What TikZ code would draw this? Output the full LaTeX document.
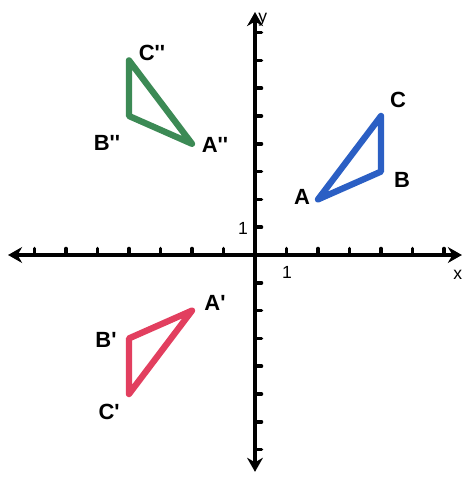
\documentclass[tikz,border=0pt]{standalone}
\usepackage{fontspec}
\setmainfont{Liberation Sans}
\usetikzlibrary{arrows.meta}
\definecolor{triBlue}{HTML}{2B5FC4}
\definecolor{triGreen}{HTML}{3C8A55}
\definecolor{triRed}{HTML}{E23F5F}
\newcommand{\pr}{\textquotesingle}

\begin{document}
\begin{tikzpicture}[
  x=0.63cm, y=0.556cm,
  axis/.style={line width=2.7pt, {Stealth[length=8pt,width=9pt]}-{Stealth[length=8pt,width=9pt]}},
  tickmark/.style={line width=2pt, line cap=round},
  tri/.style={line width=3.6pt, line join=round, line cap=round},
  vlbl/.style={font=\fontsize{12.5}{14}\selectfont\bfseries, inner sep=0pt},
  nlbl/.style={font=\fontsize{10}{12}\selectfont, inner sep=0pt},
]
\useasboundingbox (-5.1cm,-4.48cm) rectangle (4.18cm,5.1cm);

% ---------------- Axes ----------------
\coordinate (xl) at (-7.84,0);
\coordinate (xr) at (6.57,0);
\coordinate (yb) at (0,-7.8);
\coordinate (yt) at (0,8.74);
\draw[axis] (xl) -- (xr);
\draw[axis] (yb) -- (yt);

\foreach \i in {-7,...,-1,1,2,...,6}
  \draw[tickmark] (\i,0) -- ++(0,0.13cm);
\foreach \j in {-7,...,-1,1,2,...,8}
  \draw[tickmark] (0,\j) -- ++(0.13cm,0);

\node[nlbl] (xlab) at (6.44,-0.72) {x};
\node[nlbl] (ylab) at (0.25,8.45) {y};
\node[nlbl] (onex) at (1.02,-0.61) {1};
\node[nlbl] (oney) at (-0.38,0.97) {1};

% ---------------- Triangle ABC ----------------
\coordinate (A) at (2,2);
\coordinate (B) at (4,3);
\coordinate (C) at (4,5);
\draw[tri, triBlue] (A) -- (B) -- (C) -- cycle;
\node[vlbl] (lA) at (1.49,2.09) {A};
\node[vlbl] (lB) at (4.67,2.70) {B};
\node[vlbl] (lC) at (4.54,5.58) {C};

% ---------------- Triangle A'B'C' ----------------
\coordinate (A1) at (-2,-2);
\coordinate (B1) at (-4,-3);
\coordinate (C1) at (-4,-5);
\draw[tri, triRed] (A1) -- (B1) -- (C1) -- cycle;
\node[vlbl] (lA1) at (-1.27,-1.73) {A\pr};
\node[vlbl] (lB1) at (-4.73,-3.06) {B\pr};
\node[vlbl] (lC1) at (-4.63,-5.65) {C\pr};

% ---------------- Triangle A''B''C'' ----------------
\coordinate (A2) at (-2,4);
\coordinate (B2) at (-4,5);
\coordinate (C2) at (-4,7);
\draw[tri, triGreen] (A2) -- (B2) -- (C2) -- cycle;
\node[vlbl] (lA2) at (-1.27,3.96) {A\pr\pr};
\node[vlbl] (lB2) at (-4.70,4.03) {B\pr\pr};
\node[vlbl] (lC2) at (-3.27,7.27) {C\pr\pr};
\end{tikzpicture}
\end{document}
